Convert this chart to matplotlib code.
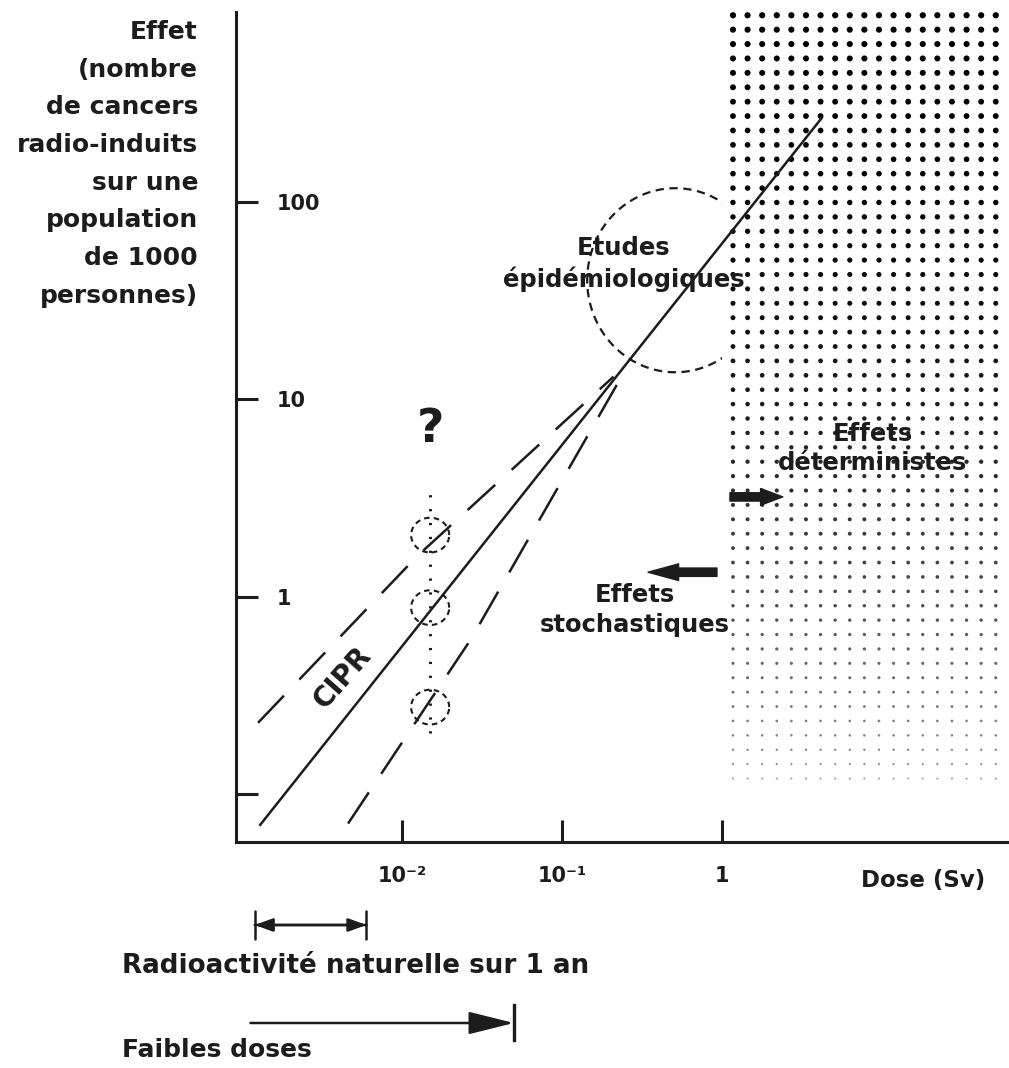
import numpy as np
import matplotlib
matplotlib.use('Agg')
import matplotlib.pyplot as plt
from matplotlib.patches import ArrowStyle
from matplotlib.transforms import blended_transform_factory

plt.rcParams['font.family'] = ['DejaVu Sans']
plt.rcParams['font.weight'] = 'bold'
plt.rcParams['lines.scale_dashes'] = False

INK = '#1c1c1c'

# ---------------- data ----------------
dose_ticks = [1e-2, 1e-1, 1]
dose_tick_labels = ['10⁻²', '10⁻¹', '1']
effect_ticks = [0.1, 1, 10, 100]
effect_tick_labels = ['', '1', '10', '100']

cipr_dose = [0.0013, 4.2]
cipr_effect = [0.07, 265]
supra_dose = [0.00126, 0.0124, 0.21]
supra_effect = [0.23, 1.6, 13.0]
sub_dose = [0.0046, 0.027, 0.22]
sub_effect = [0.071, 0.61, 11.8]

uncert_dose = 0.015
uncert_effect = [2.05, 0.88, 0.276]
uncert_span = [0.204, 3.67]
question_effect = 7.0

epi_dose, epi_effect = 0.51, 40.0
det_threshold = 1.0
det_effect_bottom = 0.12

natural_dose = [0.0012, 0.006]
low_dose = [0.00113, 0.05]

# ---------------- figure ----------------
W, H = 1009, 1068
fig = plt.figure(figsize=(W / 100, H / 100), dpi=100)
ax = fig.add_axes([236 / W, (H - 842) / H, 1 - 236 / W, (842 - 12) / H])
ax.set_xscale('log')
ax.set_yscale('log')
ax.set_xlim(10 ** -3.0375, 10 ** 1.794)
ax.set_ylim(10 ** -1.242, 10 ** 2.96)
ax.set_axisbelow(False)

for s in ['top', 'right']:
    ax.spines[s].set_visible(False)
for s in ['left', 'bottom']:
    ax.spines[s].set_linewidth(2.2)
    ax.spines[s].set_color(INK)
    ax.spines[s].set_zorder(6)

ax.set_xticks(dose_ticks)
ax.set_xticklabels(dose_tick_labels)
ax.set_yticks(effect_ticks)
ax.set_yticklabels(effect_tick_labels)
ax.minorticks_off()
ax.tick_params(axis='both', direction='in', length=16, width=2.2, color=INK,
               labelsize=15, labelcolor=INK)
ax.tick_params(axis='x', pad=17)
ax.tick_params(axis='y', pad=-29)
plt.setp(ax.get_yticklabels(), ha='left')

# deterministic zone: white backing + dot screen
ax.axvspan(det_threshold, ax.get_xlim()[1], color='white', zorder=2, lw=0)
lx0 = np.log10(det_threshold)
xs = np.arange(lx0 + 11 / 160, np.log10(ax.get_xlim()[1]), 14.6 / 160)
ytop = 2.945
ybot = np.log10(det_effect_bottom)
ys = np.arange(ybot, ytop + 1e-9, 14.4 / 197.5)
GX, GY = np.meshgrid(xs, ys)
t = (GY - ybot) / (ytop - ybot)
diam_px = 2.0 + 4.2 * t ** 0.7
sizes = (diam_px * 0.72) ** 2
grey = 0.6 * (1 - t) ** 2.5
cols = np.stack([grey, grey, grey], axis=-1).reshape(-1, 3)
ax.scatter(10 ** GX.ravel(), 10 ** GY.ravel(), s=sizes.ravel(), c=cols,
           lw=0, zorder=3)

# epidemiological studies circle (drawn in log space)
th = np.linspace(0, 2 * np.pi, 400)
ax.plot(10 ** (np.log10(epi_dose) + 0.55 * np.cos(th)),
        10 ** (np.log10(epi_effect) + 0.466 * np.sin(th)),
        color=INK, lw=1.6, ls=(0, (6, 4)), zorder=1.5)

# lines
ax.plot(cipr_dose, cipr_effect, color=INK, lw=1.8, zorder=5)
ax.plot(supra_dose, supra_effect, color=INK, lw=1.8, ls=(0, (27, 16)), zorder=4)
ax.plot(sub_dose, sub_effect, color=INK, lw=1.8, ls=(0, (27, 16)), zorder=4)

# uncertainty at low dose
ax.plot([uncert_dose, uncert_dose], uncert_span, color=INK, lw=2.2,
        ls=(0, (1.6, 8.4)), zorder=4)
for e in uncert_effect:
    ax.plot(10 ** (np.log10(uncert_dose) + 0.119 * np.cos(th)),
            10 ** (np.log10(e) + 0.088 * np.sin(th)),
            color=INK, lw=1.5, ls=(0, (4, 3)), zorder=4)
ax.text(uncert_dose, question_effect, '?', fontsize=34, ha='center',
        va='center', color=INK)

# CIPR label rotated along line
p = ax.transData.transform(np.column_stack([cipr_dose, cipr_effect]))
ang = np.degrees(np.arctan2(p[1, 1] - p[0, 1], p[1, 0] - p[0, 0]))
ax.text(0.00428, 0.388, 'CIPR', rotation=ang - 3, rotation_mode='anchor',
        fontsize=20, ha='center', va='center', color=INK, zorder=6)

ax.text(0.244, 48.4, 'Etudes\népidémiologiques', fontsize=17.5, ha='center',
        va='center', linespacing=1.3, color=INK, zorder=6)
ax.text(8.78, 5.63, 'Effets\ndéterministes', fontsize=17.5, ha='center',
        va='center', linespacing=1.3, color=INK, zorder=6)
ax.text(0.286, 0.857, 'Effets\nstochastiques', fontsize=17.5, ha='center',
        va='center', linespacing=1.3, color=INK, zorder=6)

ax.annotate('', xy=(2.40, 3.2), xytext=(1.122, 3.2),
            arrowprops=dict(arrowstyle='simple,head_length=0.8,head_width=0.6,tail_width=0.3',
                            mutation_scale=20, fc=INK, ec=INK, shrinkA=0, shrinkB=0),
            zorder=6)
ax.annotate('', xy=(0.345, 1.33), xytext=(0.93, 1.33),
            arrowprops=dict(arrowstyle='simple,head_length=1.1,head_width=0.6,tail_width=0.3',
                            mutation_scale=20, fc=INK, ec=INK, shrinkA=0, shrinkB=0),
            zorder=6)

ax.text(1 - 24 / 773, -38 / 830, 'Dose (Sv)', transform=ax.transAxes,
        ha='right', va='center', fontsize=16.5, color=INK)

# y label block
fig.text(198 / W, 1 - 20 / H,
         'Effet\n(nombre\nde cancers\nradio-induits\nsur une\npopulation\nde 1000\npersonnes)',
         ha='right', va='top', multialignment='right', fontsize=18,
         linespacing=1.72, color=INK)

# bottom annotations
yc = ('data', 'figure pixels')
ax.annotate('', xy=(natural_dose[1], H - 925), xytext=(natural_dose[0], H - 925),
            xycoords=yc, textcoords=yc,
            arrowprops=dict(arrowstyle=ArrowStyle('|-|', widthA=0.5, widthB=0.5),
                            mutation_scale=20, color=INK, lw=1.8,
                            shrinkA=0, shrinkB=0))
ax.annotate('', xy=(natural_dose[1], H - 925), xytext=(natural_dose[0], H - 925),
            xycoords=yc, textcoords=yc,
            arrowprops=dict(arrowstyle='<|-|>,head_length=0.55,head_width=0.2',
                            mutation_scale=20, color=INK, lw=1.8,
                            shrinkA=0, shrinkB=0))
fig.text(122 / W, (H - 966) / H, 'Radioactivité naturelle sur 1 an',
         ha='left', va='center', fontsize=18.8, color=INK)

ax.annotate('', xy=(low_dose[1], H - 1023), xytext=(low_dose[0], H - 1023),
            xycoords=yc, textcoords=yc,
            arrowprops=dict(arrowstyle='-|>,head_length=1.4,head_width=0.35',
                            mutation_scale=20, color=INK, lw=1.8,
                            shrinkA=0, shrinkB=0))
bt = blended_transform_factory(ax.transData, fig.transFigure)
ax.plot([low_dose[1], low_dose[1]], [(H - 1005) / H, (H - 1040) / H],
        transform=bt, color=INK, lw=2.4, clip_on=False)
fig.text(122 / W, 6 / H, 'Faibles doses',
         ha='left', va='bottom', fontsize=18, color=INK)

fig.savefig('out.png', dpi=100)
